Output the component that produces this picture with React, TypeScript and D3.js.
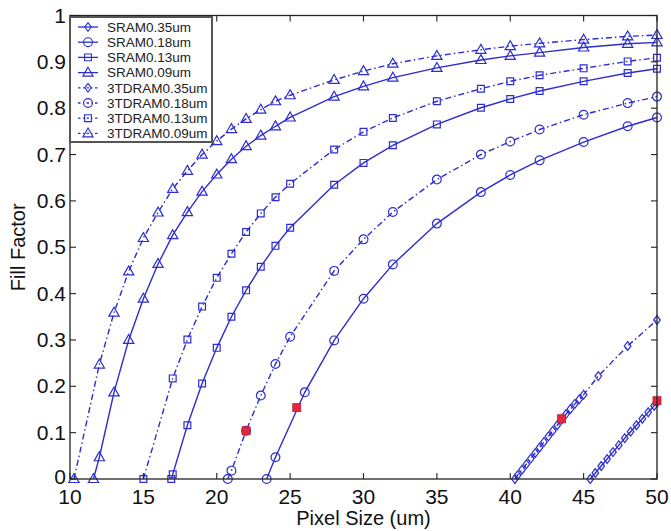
import React from "react";
import * as d3 from "d3";

// ---- Data ----
const sram035X = [45.45, 45.8, 46.2, 46.6, 47.0, 47.4, 47.8, 48.2, 48.6, 49.0, 49.4, 49.8, 50];
const sram035Y = [0, 0.013, 0.028, 0.043, 0.058, 0.073, 0.088, 0.102, 0.116, 0.13, 0.144, 0.158, 0.165];

const sram018X = [23.4, 24, 26, 28, 30, 32, 35, 38, 40, 42, 45, 48, 50];
const sram018Y = [0, 0.047, 0.187, 0.299, 0.389, 0.463, 0.551, 0.619, 0.656, 0.6875, 0.727, 0.761, 0.78];

const sram013X = [16.9, 17, 18, 19, 20, 21, 22, 23, 24, 25, 28, 30, 32, 35, 38, 40, 42, 45, 48, 50];
const sram013Y = [0, 0.01, 0.116, 0.206, 0.283, 0.35, 0.407, 0.458, 0.503, 0.542, 0.635, 0.682, 0.72, 0.765, 0.801, 0.82, 0.837, 0.858, 0.876, 0.885];

const sram009X = [11.6, 12, 13, 14, 15, 16, 17, 18, 19, 20, 21, 22, 23, 24, 25, 28, 30, 32, 35, 38, 40, 42, 45, 48, 50];
const sram009Y = [0, 0.047, 0.187, 0.3, 0.389, 0.464, 0.526, 0.576, 0.62, 0.657, 0.69, 0.718, 0.741, 0.761, 0.78, 0.825, 0.847, 0.866, 0.887, 0.904, 0.913, 0.92, 0.931, 0.939, 0.942];

const dram035X = [40.32, 40.5, 40.8, 41.1, 41.4, 41.7, 42.0, 42.3, 42.6, 42.9, 43.2, 43.5, 43.8, 44.1, 44.4, 44.7, 45.0, 46, 48, 50];
const dram035Y = [0, 0.008, 0.02, 0.032, 0.044, 0.056, 0.068, 0.08, 0.092, 0.104, 0.116, 0.128, 0.14, 0.151, 0.162, 0.172, 0.182, 0.222, 0.287, 0.343];

const dram018X = [20.75, 21, 22, 23, 24, 25, 28, 30, 32, 35, 38, 40, 42, 45, 48, 50];
const dram018Y = [0, 0.018, 0.104, 0.18, 0.248, 0.307, 0.449, 0.517, 0.576, 0.646, 0.7, 0.728, 0.754, 0.786, 0.811, 0.825];

const dram013X = [15, 17, 18, 19, 20, 21, 22, 23, 24, 25, 28, 30, 32, 35, 38, 40, 42, 45, 48, 50];
const dram013Y = [0, 0.217, 0.301, 0.372, 0.434, 0.486, 0.533, 0.573, 0.608, 0.637, 0.711, 0.749, 0.779, 0.815, 0.842, 0.858, 0.871, 0.886, 0.901, 0.909];

const dram009X = [10.27, 12, 13, 14, 15, 16, 17, 18, 19, 20, 21, 22, 23, 24, 25, 28, 30, 32, 35, 38, 40, 42, 45, 48, 50];
const dram009Y = [0, 0.247, 0.359, 0.448, 0.52, 0.575, 0.626, 0.665, 0.7, 0.729, 0.755, 0.777, 0.797, 0.815, 0.828, 0.861, 0.88, 0.896, 0.913, 0.926, 0.934, 0.94, 0.948, 0.955, 0.958];

const redX = [22, 25.45, 43.5, 50];
const redY = [0.104, 0.154, 0.13, 0.169];

const xTicks = [10, 15, 20, 25, 30, 35, 40, 45, 50];
const yTicks = [0, 0.1, 0.2, 0.3, 0.4, 0.5, 0.6, 0.7, 0.8, 0.9, 1];
const yTickLabels = ["0", "0.1", "0.2", "0.3", "0.4", "0.5", "0.6", "0.7", "0.8", "0.9", "1"];

type Marker = "diamond" | "circle" | "square" | "triangle";
const seriesNames = [
  "SRAM0.35um", "SRAM0.18um", "SRAM0.13um", "SRAM0.09um",
  "3TDRAM0.35um", "3TDRAM0.18um", "3TDRAM0.13um", "3TDRAM0.09um",
];
const seriesX = [sram035X, sram018X, sram013X, sram009X, dram035X, dram018X, dram013X, dram009X];
const seriesY = [sram035Y, sram018Y, sram013Y, sram009Y, dram035Y, dram018Y, dram013Y, dram009Y];
const seriesMarker: Marker[] = ["diamond", "circle", "square", "triangle", "diamond", "circle", "square", "triangle"];
const seriesDashed = [false, false, false, false, true, true, true, true];

// ---- Layout ----
const W = 671, H = 531;
const L = 70, R = 657, T = 15.5, B = 479;
const BLUE = "#2c2cd2";
const FONT = "Arial, 'Liberation Sans', Helvetica, sans-serif";
const DASH = "6,3,1.5,3";

const x = d3.scaleLinear().domain([10, 50]).range([L, R]);
const y = d3.scaleLinear().domain([0, 1]).range([B, T]);

function markerPath(m: Marker, cx: number, cy: number): string {
  if (m === "circle") {
    const r = 4.4;
    return `M${cx - r},${cy}a${r},${r} 0 1,0 ${2 * r},0a${r},${r} 0 1,0 ${-2 * r},0Z`;
  }
  if (m === "square") {
    const s = 3.4;
    return `M${cx - s},${cy - s}h${2 * s}v${2 * s}h${-2 * s}Z`;
  }
  if (m === "diamond") {
    const w = 3.3, h = 4.4;
    return `M${cx},${cy - h}L${cx + w},${cy}L${cx},${cy + h}L${cx - w},${cy}Z`;
  }
  const s = 5.4;
  return `M${cx},${cy - s}L${cx + s * 0.95},${cy + s * 0.65}L${cx - s * 0.95},${cy + s * 0.65}Z`;
}

export default function App() {
  const line = d3.line<[number, number]>().x((d) => x(d[0])).y((d) => y(d[1]));
  const legX = L, legY = T + 1.5, legW = 142, legH = 125;
  return (
    <div style={{ position: "absolute", left: 0, top: 0 }}>
      <svg width={W} height={H} style={{ display: "block", background: "#fff" }} fontFamily={FONT}>
        <rect x={0} y={0} width={W} height={H} fill="#fff" />
        {/* series */}
        {seriesX.map((xs, i) => {
          const pts = xs.map((xv, j) => [xv, seriesY[i][j]] as [number, number]);
          return (
            <g key={i}>
              <path d={line(pts) || ""} fill="none" stroke={BLUE} strokeWidth={1.4}
                strokeDasharray={seriesDashed[i] ? DASH : undefined} />
              {pts.map((p, j) => (
                <path key={j} d={markerPath(seriesMarker[i], x(p[0]), y(p[1]))} fill="none" stroke={BLUE} strokeWidth={1.2} />
              ))}
            </g>
          );
        })}
        {/* red markers */}
        {redX.map((rx, i) => (
          <rect key={i} x={x(rx) - 4} y={y(redY[i]) - 4} width={8} height={8} fill="#e8263a" stroke="#b0203a" strokeWidth={0.8} />
        ))}
        {/* frame */}
        <rect x={L} y={T} width={R - L} height={B - T} fill="none" stroke="#222" strokeWidth={1.3} />
        {/* ticks */}
        {xTicks.map((t) => (
          <g key={"x" + t}>
            <line x1={x(t)} x2={x(t)} y1={B} y2={B - 6} stroke="#222" strokeWidth={1.1} />
            <line x1={x(t)} x2={x(t)} y1={T} y2={T + 6} stroke="#222" strokeWidth={1.1} />
            <text x={x(t)} y={504} fontSize={21} textAnchor="middle" fill="#111">{t}</text>
          </g>
        ))}
        {yTicks.map((t, i) => (
          <g key={"y" + t}>
            <line x1={L} x2={L + 6} y1={y(t)} y2={y(t)} stroke="#222" strokeWidth={1.1} />
            <line x1={R} x2={R - 6} y1={y(t)} y2={y(t)} stroke="#222" strokeWidth={1.1} />
            <text x={L - 4} y={y(t) + (t === 0 ? 5 : 7)} fontSize={21} textAnchor="end" fill="#111">{yTickLabels[i]}</text>
          </g>
        ))}
        {/* axis labels */}
        <text x={(L + R) / 2} y={525} fontSize={20} textAnchor="middle" fill="#111">Pixel Size (um)</text>
        <text transform={`translate(25,${(T + B) / 2}) rotate(-90)`} fontSize={20} textAnchor="middle" fill="#111">Fill Factor</text>
        {/* legend */}
        <rect x={legX} y={legY} width={legW} height={legH} fill="#fff" stroke="#555" strokeWidth={2} />
        {seriesNames.map((name, i) => {
          const cy = legY + 10 + i * 15.2;
          return (
            <g key={name}>
              <line x1={legX + 8} x2={legX + 28} y1={cy} y2={cy} stroke={BLUE} strokeWidth={1.3}
                strokeDasharray={seriesDashed[i] ? "2.5,2.5,1,2.5" : undefined} />
              <path d={markerPath(seriesMarker[i], legX + 18, cy)} fill="none" stroke={BLUE} strokeWidth={1.1} />
              <text x={legX + 37} y={cy + 4.8} fontSize={13.5} fill="#222">{name}</text>
            </g>
          );
        })}
      </svg>
    </div>
  );
}
